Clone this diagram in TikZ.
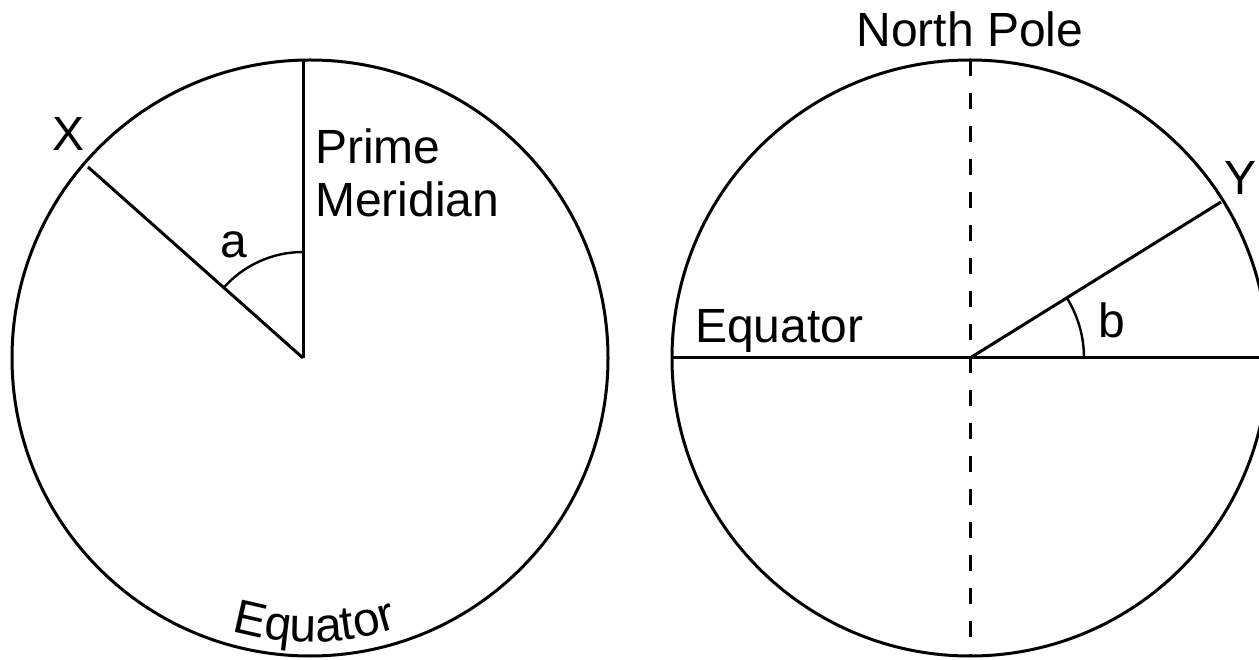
\documentclass[tikz,border=0pt]{standalone}
\usepackage{fontspec}
\setmainfont{Liberation Sans}
\usetikzlibrary{calc,decorations.text}
\newcommand\lblfont{\fontsize{48}{55}\selectfont}
\begin{document}
\begin{tikzpicture}[x=1pt,y=1pt,
  ln/.style={line width=3pt,line cap=butt},
  ang/.style={line width=2.4pt},
  lbl/.style={font=\lblfont,inner sep=0pt}]
\useasboundingbox (0,0) rectangle (1259,659);
% ---- left globe ----
\coordinate (O1) at (310,301);
\coordinate (V1) at (303,301);
\coordinate (PM) at (303,600);
\coordinate (XE) at (88,492);
\draw[ln] (O1) circle[radius=298pt];
\draw[ln] (V1) -- (PM);
\draw[ln] (V1) -- (XE);
\draw[ang] ($(V1)+(90:106pt)$) arc[start angle=90,end angle=138.4,radius=106pt];
\node[lbl] (X) at (69,525) {X};
\node[lbl] (a) at (234,414) {a};
\node[lbl,align=left,anchor=north west] (pm) at (315,530) {Prime\\[-2pt]Meridian};
\coordinate (EqS) at ($(O1)+(240:284pt)$);
\path[decorate,decoration={text along path,text align=center,
  text={|\lblfont|Equator}}] (EqS) arc[start angle=240,end angle=302,radius=284pt];
% ---- right globe ----
\coordinate (O2) at (970,301);
\coordinate (EL) at (672,301);
\coordinate (ER) at (1259,301);
\coordinate (NP) at (970,599);
\coordinate (SP) at (970,3);
\coordinate (YE) at (1221,457);
\draw[ln] (O2) circle[radius=298pt];
\draw[ln] (EL) -- (ER);
\draw[ln,dash pattern=on 16pt off 17pt] (NP) -- (SP);
\draw[ln] (O2) -- (YE);
\draw[ang] ($(O2)+(0:114pt)$) arc[start angle=0,end angle=31.9,radius=114pt];
\node[lbl,anchor=base] (np) at (970,612) {North Pole};
\node[lbl,anchor=base west] (eq) at (695,316) {Equator};
\node[lbl,anchor=base west] (b) at (1098,321) {b};
\node[lbl,anchor=base] (Y) at (1240,464) {Y};
\end{tikzpicture}
\end{document}
